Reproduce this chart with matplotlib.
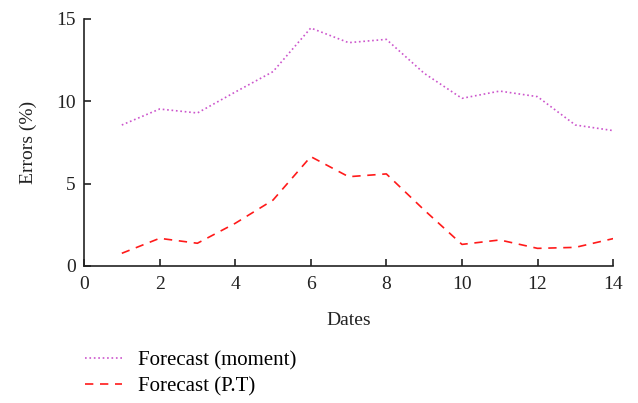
import matplotlib
matplotlib.use("Agg")
from matplotlib import pyplot as plt

# Data
dates = [1, 2, 3, 4, 5, 6, 7, 8, 9, 10, 11, 12, 13, 14]
moment = [8.56, 9.53, 9.29, 10.56, 11.8, 14.45, 13.56, 13.76, 11.7, 10.18, 10.62, 10.28, 8.56, 8.22]
pt = [0.77, 1.68, 1.38, 2.59, 4.0, 6.64, 5.42, 5.59, 3.4, 1.31, 1.58, 1.07, 1.13, 1.66]

plt.rcParams["font.family"] = ["Liberation Serif", "DejaVu Serif"]
plt.rcParams["font.size"] = 14

fig = plt.figure(figsize=(6.38, 4.03), dpi=100)
ax = fig.add_axes([0.1317, 0.34, 0.8293, 0.613])

l1, = ax.plot(dates, moment, linestyle=":", color="#cc55cc", linewidth=1.2)
l2, = ax.plot(dates, pt, linestyle=(0, (5, 4)), color="#ff1a1a", linewidth=1.2)

ax.set_xlim(0, 14)
ax.set_ylim(0, 15)
ax.set_xticks(range(0, 15, 2))
ax.set_yticks([0, 5, 10, 15])
ax.spines["top"].set_visible(False)
ax.spines["right"].set_visible(False)
ax.tick_params(direction="in", length=5, width=1.2, labelsize=14, colors="#222222")
ax.tick_params(axis="x", pad=7)
ax.tick_params(axis="y", pad=6)
for s in ("left", "bottom"):
    ax.spines[s].set_linewidth(1.2)
    ax.spines[s].set_color("#222222")

ax.set_xlabel("Dates", fontsize=14, color="#222222", labelpad=14)
ax.set_ylabel("Errors (%)", fontsize=14, color="#222222", labelpad=14)

fig.legend([l1, l2], ["Forecast (moment)", "Forecast (P.T)"],
           loc="upper left", bbox_to_anchor=(0.133, 0.13), frameon=False,
           fontsize=15, handlelength=1.8, labelspacing=0.3, handletextpad=0.75,
           borderaxespad=0, borderpad=0)

fig.savefig("out.png", dpi=100)
